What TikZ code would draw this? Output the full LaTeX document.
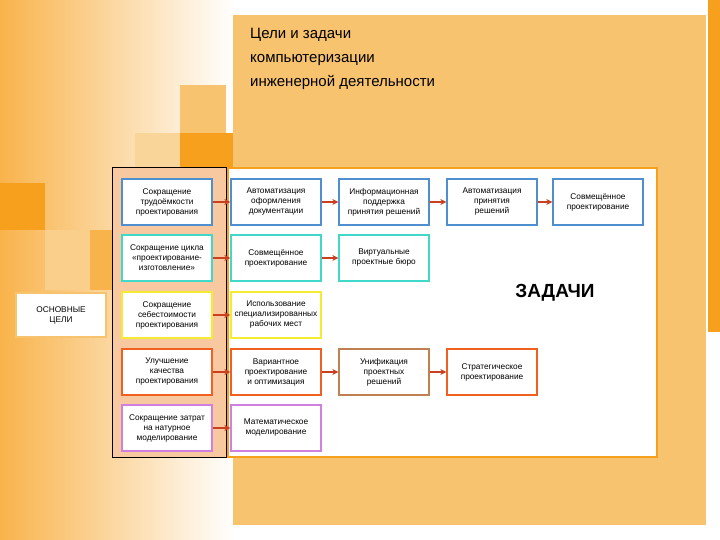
\documentclass[tikz,border=0pt]{standalone}
\usepackage{fontspec}
\setmainfont{Liberation Sans}
\usetikzlibrary{arrows.meta}
\definecolor{bgo}{HTML}{F8C36E}
\definecolor{so}{HTML}{F7A01E}
\definecolor{peach}{HTML}{F8C8A0}
\definecolor{cb}{HTML}{4F8FD0}
\definecolor{cc}{HTML}{40D8C8}
\definecolor{cy}{HTML}{F4EC30}
\definecolor{co}{HTML}{F06020}
\definecolor{cbr}{HTML}{C08050}
\definecolor{cv}{HTML}{D080E0}
\definecolor{arcol}{HTML}{C84020}
\begin{document}
\begin{tikzpicture}[x=1pt,y=-1pt,
  bx/.style={draw=#1,line width=1.3pt,fill=white,minimum width=90pt,minimum height=46pt,inner sep=1pt,align=center,font=\fontsize{8.3}{10}\selectfont},
  arr/.style={-{Stealth[length=6pt,width=6pt]},draw=arcol,fill=arcol,line width=1.4pt}]
\useasboundingbox (0,0) rectangle (720,540);
\shade[left color=so!80,right color=white] (0,0) rectangle (235,540);
\fill[white] (235,0) rectangle (720,540);
% decorative squares
\fill[bgo] (180,85) rectangle (226,133);
\fill[bgo!70] (135,133) rectangle (180,168);
\fill[so] (180,133) rectangle (233,168);
\fill[so] (0,183) rectangle (45,230);
\fill[bgo!80] (45,230) rectangle (90,290);
\fill[so!80] (90,230) rectangle (112,290);
\fill[so] (708,0) rectangle (720,332);
% main panel
\fill[bgo] (233,15) rectangle (706,525);
\node[anchor=north west,align=left,font=\fontsize{15}{24}\selectfont,inner sep=0pt] (title) at (250,28) {Цели и задачи\\компьютеризации\\инженерной деятельности};
\draw[so,line width=2pt,fill=white] (228,168) rectangle (657,457);
\draw[black,fill=peach] (112,167) rectangle (226,457);
\node[draw=bgo,line width=1.3pt,fill=white,minimum width=90pt,minimum height=44pt,align=center,font=\fontsize{8.3}{10}\selectfont] (osn) at (61,315) {ОСНОВНЫЕ\\ЦЕЛИ};
\node[font=\bfseries\fontsize{19}{22}\selectfont] (zad) at (555,293) {ЗАДАЧИ};
% row 1
\node[bx=cb] (a1) at (167,202) {Сокращение\\трудоёмкости\\проектирования};
\node[bx=cb] (a2) at (276,202) {Автоматизация\\оформления\\документации};
\node[bx=cb] (a3) at (384,202) {Информационная\\поддержка\\принятия решений};
\node[bx=cb] (a4) at (492,202) {Автоматизация\\принятия\\решений};
\node[bx=cb] (a5) at (598,202) {Совмещённое\\проектирование};
% row 2
\node[bx=cc] (b1) at (167,258) {Сокращение цикла\\«проектирование-\\изготовление»};
\node[bx=cc] (b2) at (276,258) {Совмещённое\\проектирование};
\node[bx=cc] (b3) at (384,258) {Виртуальные\\проектные бюро};
% row 3
\node[bx=cy] (c1) at (167,315) {Сокращение\\себестоимости\\проектирования};
\node[bx=cy] (c2) at (276,315) {Использование\\специализированных\\рабочих мест};
% row 4
\node[bx=co] (d1) at (167,372) {Улучшение\\качества\\проектирования};
\node[bx=co] (d2) at (276,372) {Вариантное\\проектирование\\и оптимизация};
\node[bx=cbr] (d3) at (384,372) {Унификация\\проектных\\решений};
\node[bx=co] (d4) at (492,372) {Стратегическое\\проектирование};
% row 5
\node[bx=cv] (e1) at (167,428) {Сокращение затрат\\на натурное\\моделирование};
\node[bx=cv] (e2) at (276,428) {Математическое\\моделирование};
\foreach \p/\q in {a1/a2,a2/a3,a3/a4,a4/a5,b1/b2,b2/b3,c1/c2,d1/d2,d2/d3,d3/d4,e1/e2}
  \draw[arr] (\p) -- (\q);
\end{tikzpicture}
\end{document}
